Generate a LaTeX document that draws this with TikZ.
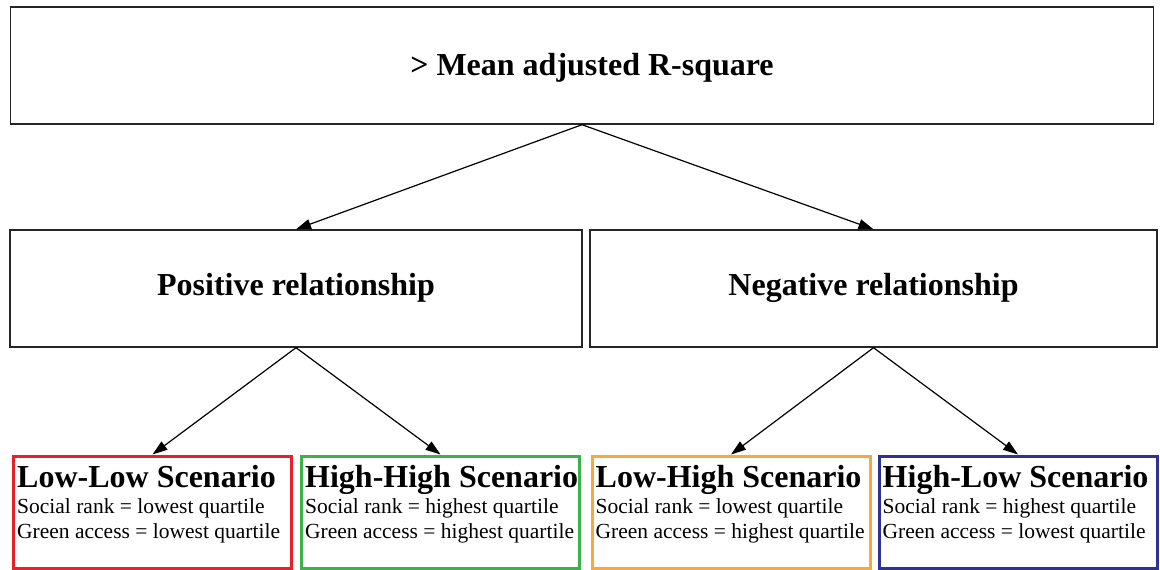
\documentclass[tikz,border=0pt]{standalone}
\usepackage{fontspec}
\setmainfont{Liberation Serif}
\usetikzlibrary{arrows.meta}
\definecolor{llred}{RGB}{232,32,40}
\definecolor{hhgreen}{RGB}{60,178,74}
\definecolor{lhorange}{RGB}{250,168,58}
\definecolor{hlblue}{RGB}{46,50,146}
\newcommand{\headFont}[0]{\fontsize{32}{36}\selectfont\bfseries}
\newcommand{\scenFont}[0]{\fontsize{21.5}{25}\selectfont}
\newcommand{\scenTitle}[1]{{\fontsize{32}{32}\selectfont\bfseries #1}}

\begin{document}
\begin{tikzpicture}[x=1pt, y=-1pt]
  \tikzset{
    box/.style={draw=black!85, line width=1.4pt, minimum height=117pt, inner sep=0pt,
      text height=22pt, text depth=9pt, font=\headFont},
    scen/.style={draw=#1, line width=3pt, minimum width=278pt, minimum height=112pt, inner sep=0pt},
    scentext/.style={anchor=north west, align=left, inner sep=0pt, font=\scenFont},
    link/.style={-{Triangle[length=15pt,width=10pt]}, line width=1.2pt}
  }
  \useasboundingbox (0,0) rectangle (1160,570);
  \node[box, minimum width=1143pt, text depth=3pt] (mean) at (582,65.5) {\hspace*{20pt}> Mean adjusted R-square};
  \node[box, minimum width=572pt] (pos) at (296,288.5) {Positive relationship};
  \node[box, minimum width=567pt] (neg) at (873.5,288.5) {Negative relationship};
  \node[scen=llred] (low-low) at (152.5,512) {};
  \node[scen=hhgreen] (high-high) at (440.5,512) {};
  \node[scen=lhorange] (low-high) at (731,512) {};
  \node[scen=hlblue] (high-low) at (1018,512) {};
  \node[scentext] at ([shift={(5,10.5)}]low-low.north west)
    {\scenTitle{Low-Low Scenario}\\[1.4pt]
     Social rank = lowest quartile\\ Green access = lowest quartile};
  \node[scentext] at ([shift={(5,10.5)}]high-high.north west)
    {\scenTitle{High-High Scenario}\\[1.4pt]
     Social rank = highest quartile\\ Green access = highest quartile};
  \node[scentext] at ([shift={(5,10.5)}]low-high.north west)
    {\scenTitle{Low-High Scenario}\\[1.4pt]
     Social rank = lowest quartile\\ Green access = highest quartile};
  \node[scentext] at ([shift={(5,10.5)}]high-low.north west)
    {\scenTitle{High-Low Scenario}\\[1.4pt]
     Social rank = highest quartile\\ Green access = lowest quartile};
  \draw[link] (mean.south) -- (pos.north);
  \draw[link] (mean.south) -- (neg.north);
  \draw[link] (pos.south) -- (low-low.north);
  \draw[link] (pos.south) -- (high-high.north);
  \draw[link] (neg.south) -- (low-high.north);
  \draw[link] (neg.south) -- (high-low.north);
\end{tikzpicture}
\end{document}
